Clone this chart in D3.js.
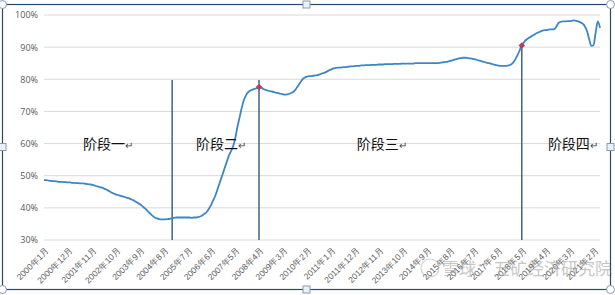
<!DOCTYPE html>
<html>
<head>
<meta charset="utf-8">
<script src="https://cdn.jsdelivr.net/npm/d3@7"></script>
<style>
  body { margin: 0; background: #fff; }
  svg { display: block; font-family: "Noto Sans CJK SC", "Noto Sans", sans-serif; }
</style>
</head>
<body>
<svg id="chart" width="615" height="295"></svg>
<script>
// monthly values (%), 2000年1月 .. 2021年5月
const values = [
  48.6,48.6,48.5,48.4,48.3,48.3,48.2,48.1,48.1,48.0,48.0,47.9,
  47.9,47.8,47.8,47.7,47.7,47.6,47.6,47.5,47.4,47.3,47.2,47.0,
  46.8,46.6,46.4,46.2,45.9,45.6,45.2,44.8,44.5,44.2,44.0,43.8,
  43.6,43.4,43.2,43.0,42.7,42.4,42.0,41.6,41.2,40.7,40.1,39.5,
  38.8,38.1,37.5,37.0,36.7,36.5,36.4,36.4,36.4,36.5,36.6,36.8,
  36.9,37.0,37.0,37.0,37.0,37.0,37.0,37.0,36.9,37.0,37.0,37.1,
  37.3,37.7,38.2,38.8,39.8,41.0,42.5,44.0,46.0,48.0,50.0,52.0,
  54.0,56.0,57.5,59.0,61.5,65.0,68.0,71.0,73.5,75.0,76.0,76.5,
  76.8,77.0,77.2,77.6,77.4,77.0,76.7,76.5,76.3,76.2,76.0,75.8,
  75.7,75.5,75.3,75.2,75.3,75.5,75.8,76.2,77.0,78.0,79.0,80.0,
  80.5,80.8,81.0,81.0,81.1,81.2,81.3,81.5,81.8,82.0,82.3,82.7,
  83.0,83.3,83.5,83.6,83.6,83.7,83.8,83.8,83.9,84.0,84.0,84.1,
  84.2,84.2,84.3,84.3,84.4,84.4,84.4,84.5,84.5,84.5,84.6,84.6,
  84.6,84.7,84.7,84.7,84.7,84.8,84.8,84.8,84.8,84.9,84.9,84.9,
  84.9,84.9,84.9,85.0,85.0,85.0,85.0,85.0,85.0,85.0,85.0,85.0,
  85.0,85.0,85.1,85.2,85.3,85.4,85.5,85.7,85.9,86.1,86.3,86.5,
  86.6,86.7,86.7,86.6,86.5,86.4,86.3,86.1,85.9,85.7,85.5,85.3,
  85.1,85.0,84.8,84.6,84.4,84.3,84.2,84.2,84.2,84.2,84.3,84.6,
  85.2,86.2,87.5,89.0,90.5,91.5,92.3,92.8,93.2,93.6,94.0,94.4,
  94.7,95.0,95.2,95.3,95.4,95.5,95.5,95.6,96.5,97.6,97.9,98.0,
  98.0,98.1,98.1,98.2,98.3,98.2,98.0,97.7,97.3,96.5,95.0,92.5,
  90.4,90.6,94.5,98.0,96.0
];

const months = values.map((v, i) => `${2000 + Math.floor(i / 12)}年${(i % 12) + 1}月`);
const yTicks = [30, 40, 50, 60, 70, 80, 90, 100];

// stage boundaries and labels
const dividers = ["2004年12月", "2008年4月", "2018年5月"];
const dividerTops = [80, 80, null];
const markedMonths = ["2008年4月", "2018年5月"];
const stages = ["阶段一", "阶段二", "阶段三", "阶段四"];
const stageAt = ["2001年7月", "2005年11月", "2012年1月", "2019年5月"];

const svg = d3.select("#chart");

const x = d3.scalePoint().domain(months).range([44, 600]);
const y = d3.scaleLinear().domain([30, 100]).range([240, 15]);

// grid
svg.append("g")
  .selectAll("line")
  .data(yTicks)
  .join("line")
  .attr("x1", 44).attr("x2", 600)
  .attr("y1", d => y(d)).attr("y2", d => y(d))
  .attr("stroke", "#d9d9d9")
  .attr("stroke-width", 1);

// y axis labels
const yAxis = d3.axisLeft(y).tickValues(yTicks).tickFormat(d => d + "%").tickSize(0).tickPadding(6);
svg.append("g")
  .attr("transform", "translate(44,0)")
  .call(yAxis)
  .call(g => g.select(".domain").remove())
  .call(g => g.selectAll("text").attr("fill", "#595959").attr("font-size", 9).attr("font-family", "Open Sans, sans-serif"));

// x axis labels
const xAxis = d3.axisBottom(x)
  .tickValues(months.filter((d, i) => i % 11 === 0))
  .tickSize(0);
svg.append("g")
  .attr("transform", "translate(0,240)")
  .call(xAxis)
  .call(g => g.select(".domain").remove())
  .call(g => g.selectAll("text")
    .attr("fill", "#595959")
    .attr("font-size", 8.5)
    .attr("text-anchor", "end")
    .attr("dy", 0)
    .attr("transform", "translate(3,9) rotate(-45)"));

// divider lines
svg.append("g")
  .selectAll("line")
  .data(dividers)
  .join("line")
  .attr("x1", d => x(d)).attr("x2", d => x(d))
  .attr("y1", (d, i) => dividerTops[i] !== null ? dividerTops[i] : y(values[months.indexOf(d)]))
  .attr("y2", 240)
  .attr("stroke", "#1f4e79")
  .attr("stroke-width", 1.3);

// series line
const line = d3.line()
  .x((d, i) => x(months[i]))
  .y(d => y(d))
  .curve(d3.curveMonotoneX);

svg.append("path")
  .datum(values)
  .attr("d", line)
  .attr("fill", "none")
  .attr("stroke", "#3d85c6")
  .attr("stroke-width", 1.8);

// markers
svg.append("g")
  .selectAll("rect")
  .data(markedMonths)
  .join("rect")
  .attr("x", -2.3).attr("y", -2.3)
  .attr("width", 4.6).attr("height", 4.6)
  .attr("transform", d => `translate(${x(d)},${y(values[months.indexOf(d)])}) rotate(45)`)
  .attr("fill", "#c0395a");

// stage labels
const stageText = svg.append("g")
  .selectAll("text")
  .data(stages)
  .join("text")
  .attr("x", (d, i) => x(stageAt[i]))
  .attr("y", 149)
  .attr("font-size", 14)
  .attr("fill", "#111");
stageText.append("tspan").text(d => d);
stageText.append("tspan").attr("font-size", 10).attr("fill", "#444").text("↵");

// watermark
const wm = svg.append("g").attr("opacity", 0.55);
wm.append("circle").attr("cx", 430).attr("cy", 268).attr("r", 9)
  .attr("fill", "none").attr("stroke", "#aaa").attr("stroke-width", 1.2);
wm.append("text").attr("x", 442).attr("y", 275)
  .attr("font-size", 17).attr("fill", "#999")
  .text("雪球：五矿经济研究院");

// selection frame
svg.append("rect")
  .attr("x", 2.5).attr("y", 4.5).attr("width", 608).attr("height", 285)
  .attr("fill", "none").attr("stroke", "#2b4a6b").attr("stroke-width", 1.2);
const corners = [[2.5, 4.5], [610.5, 4.5], [2.5, 289.5], [610.5, 289.5]];
const mids = [[306.5, 4.5], [2.5, 147], [610.5, 147], [306.5, 289.5]];
svg.append("g").selectAll("circle").data(corners).join("circle")
  .attr("cx", d => d[0]).attr("cy", d => d[1]).attr("r", 4)
  .attr("fill", "#fff").attr("stroke", "#8a9bb0");
svg.append("g").selectAll("rect").data(mids).join("rect")
  .attr("x", d => d[0] - 3.5).attr("y", d => d[1] - 3.5)
  .attr("width", 7).attr("height", 7)
  .attr("fill", "#e8f1fb").attr("stroke", "#8a9bb0");
</script>
</body>
</html>
